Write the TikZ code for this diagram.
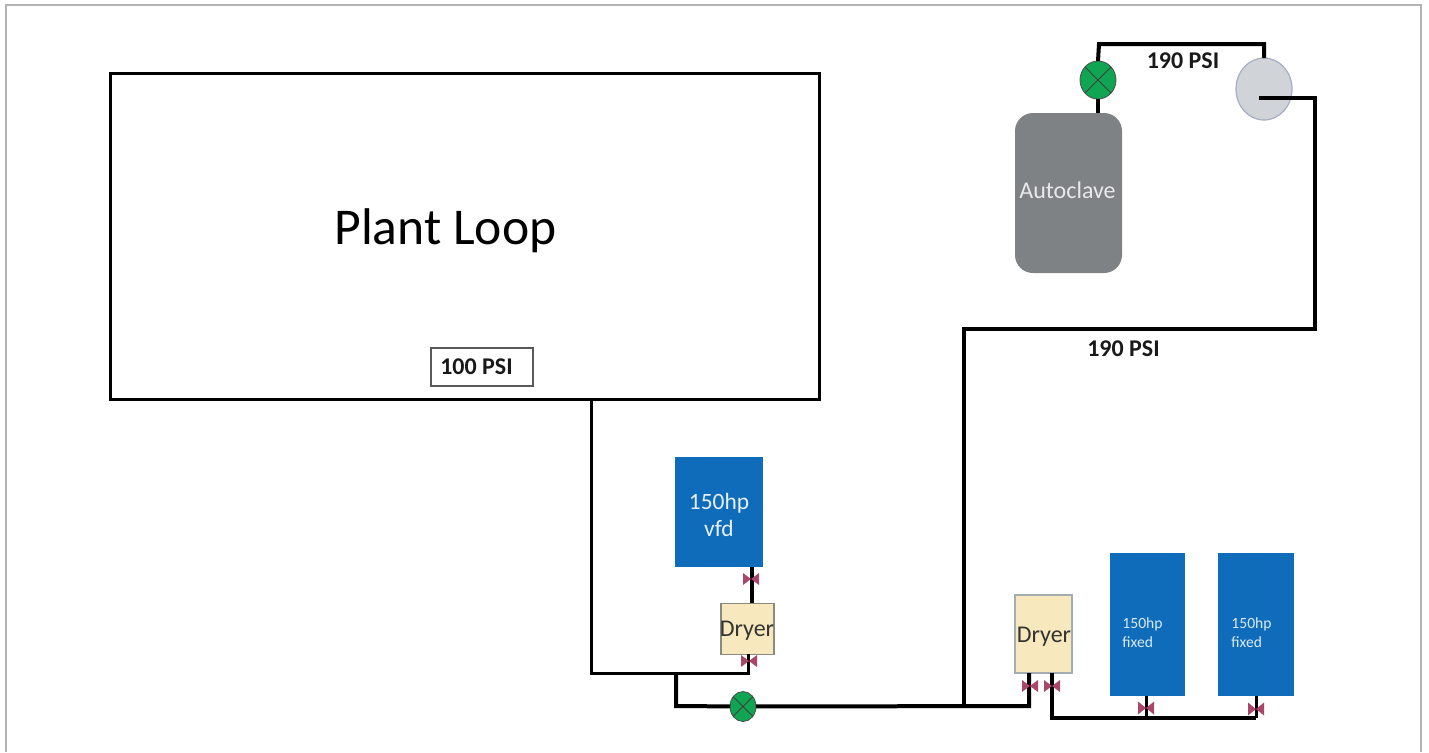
\documentclass[tikz,border=0pt]{standalone}
\usepackage{fontspec}
\setmainfont{Carlito}
\usetikzlibrary{shapes.geometric}
\definecolor{frameg}{HTML}{B4B4B4}
\definecolor{pumpblue}{HTML}{0F6CBB}
\definecolor{dryerfill}{HTML}{F7E8BE}
\definecolor{dryerline}{HTML}{8A8A80}
\definecolor{dryerlinetwo}{HTML}{A4AEB0}
\definecolor{clavefill}{HTML}{7F8285}
\definecolor{valvegreen}{HTML}{0FA552}
\definecolor{tankfill}{HTML}{D0D3D8}
\definecolor{tankline}{HTML}{A6ADC4}
\definecolor{bowtie}{HTML}{A8476A}
\newcommand{\bowvalve}[3]{\fill[bowtie] (#1)++(-#2*1,-#3*1) -- ++(#2*2,#3*2) -- ++(0,-#3*2) -- ++(-#2*2,#3*2) -- cycle;}
\tikzset{
  x=0.5pt,y=-0.5pt,
  px/.style 2 args={minimum width=#1*0.5pt,minimum height=#2*0.5pt,inner sep=0pt,outer sep=0pt},
  pipe/.style={line width=2pt,black,line join=miter},
  thinpipe/.style={line width=1.5pt,black,line join=miter},
  pumplabel/.style={text=white!90!pumpblue,align=center,inner sep=0pt,font=\fontsize{11.7}{13.5}\selectfont},
  smallpump/.style={text=white!85!pumpblue,align=left,font=\fontsize{7.8}{9.7}\selectfont},
  dryer/.style={fill=dryerfill,draw=dryerline,line width=0.8pt},
  dryerlabel/.style={text=black!80,inner sep=0pt,font=\fontsize{12}{14}\selectfont},
  psi/.style={font=\bfseries\fontsize{12}{14}\selectfont,text=black!90,inner sep=0pt},
  xvalve/.style={ellipse,fill=valvegreen,draw=black!70,line width=0.4pt,inner sep=0pt},
}
\begin{document}
\begin{tikzpicture}
\useasboundingbox (0,0) rectangle (1429,752);
% outer frame, open at the bottom
\coordinate (fbl) at (6,752);
\coordinate (ftl) at (6,5);
\coordinate (ftr) at (1421,5);
\coordinate (fbr) at (1421,752);
\draw[frameg,line width=1pt] (fbl) -- (ftl) -- (ftr) -- (fbr);

% boxes
\node[px={709}{326},draw=black,line width=1.5pt] (plant) at (464.5,236) {};
\node[font=\fontsize{25.8}{30}\selectfont,inner sep=0pt] (plantlabel) at (445.5,231) {Plant Loop};
\node[px={102}{38},draw=black!65,line width=1pt] (psibox) at (482,367) {};
\node[psi] (psiboxlabel) at (476.5,367) {100 PSI};

\node[px={88}{110},fill=pumpblue] (vfd) at (719,512) {};
\node[pumplabel] (vfdlabel) at (719,515) {150hp\\vfd};
\node[px={53}{51},dryer] (dryerA) at (747.5,629) {};
\node[dryerlabel] (dryerAlabel) at (747,631) {Dryer};
\node[px={57}{78},dryer,draw=dryerlinetwo] (dryerB) at (1043.5,634) {};
\node[dryerlabel] (dryerBlabel) at (1044,637) {Dryer};
\node[px={75}{143},fill=pumpblue] (fixA) at (1147.5,624.5) {};
\node[smallpump,inner sep=0pt] (fixAlabel) at (1142.5,632.5) {150hp\\fixed};
\node[px={76}{143},fill=pumpblue] (fixB) at (1256,624.5) {};
\node[smallpump,inner sep=0pt] (fixBlabel) at (1251.5,632.5) {150hp\\fixed};
\node[px={107}{160},fill=clavefill,rounded corners=9pt] (clave) at (1068.5,193) {};
\node[text=white!82!clavefill,font=\fontsize{12}{15}\selectfont,inner sep=0pt] (clavelabel) at (1067.5,190) {Autoclave};

% junctions
\coordinate (plantout) at (591,399);
\coordinate (c1) at (591,673);
\coordinate (c2) at (748,673);
\coordinate (c3) at (748,654);
\coordinate (j1) at (676,673);
\coordinate (c4) at (676,706);
\coordinate (j2) at (964,706);
\coordinate (c5) at (1029,706);
\coordinate (c6) at (1029,673);
\coordinate (c7) at (964,329);
\coordinate (c8) at (1315,329);
\coordinate (c9) at (1315,98);
\coordinate (c10) at (1259,98);
\coordinate (c11) at (1264,44);
\coordinate (c12) at (1099,44);
\coordinate (c13) at (1052,673);
\coordinate (c14) at (1052,718);
\coordinate (j3) at (1146,718);
\coordinate (c15) at (1256,718);
\coordinate (c16) at (1146,696);
\coordinate (c17) at (1256,696);
\coordinate (c18) at (752,567);
\coordinate (c19) at (752,603);

\node[ellipse,px={56}{62},fill=tankfill,draw=tankline,line width=0.6pt] (tank) at (1264,89) {};
\node[xvalve,px={36}{38}] (vtop) at (1098,80) {};
\node[xvalve,px={26}{30}] (vbot) at (743,706.5) {};

% pipes
\draw[thinpipe] (plantout) -- (c1) -- (c2) -- (c3);
\draw[pipe] (j1) -- (c4) -- (vbot);
\draw[pipe] (vbot) -- (c5) -- (c6);
\draw[pipe] (j2) -- (c7) -- (c8) -- (c9) -- (c10);
\draw[pipe] (tank.north) -- (c11) -- (c12) -- (vtop.north);
\draw[pipe] (vtop.south) -- (clave.north -| vtop.south);
\draw[pipe] (c13) -- (c14) -- (c15);
\draw[thinpipe] (c16) -- (j3);
\draw[thinpipe] (c17) -- (c15);
\draw[pipe] (c18) -- (c19);

% crosses in valves
\draw[black!75,line width=0.5pt] (vtop.45) -- (vtop.225) (vtop.135) -- (vtop.315);
\draw[black!75,line width=0.5pt] (vbot.45) -- (vbot.225) (vbot.135) -- (vbot.315);

% hand valves
\coordinate (hv1) at (751,579);
\coordinate (hv2) at (749,661);
\coordinate (hv3) at (1030,686);
\coordinate (hv4) at (1052,686);
\coordinate (hv5) at (1146,708);
\coordinate (hv6) at (1256,709);
\bowvalve{hv1}{8}{6}
\bowvalve{hv2}{8}{6}
\bowvalve{hv3}{8}{6}
\bowvalve{hv4}{8}{6}
\bowvalve{hv5}{8}{6.5}
\bowvalve{hv6}{8}{6.5}

% pressure labels
\node[psi] (psiA) at (1183,61) {190 PSI};
\node[psi] (psiB) at (1123.5,349) {190 PSI};
\end{tikzpicture}
\end{document}
